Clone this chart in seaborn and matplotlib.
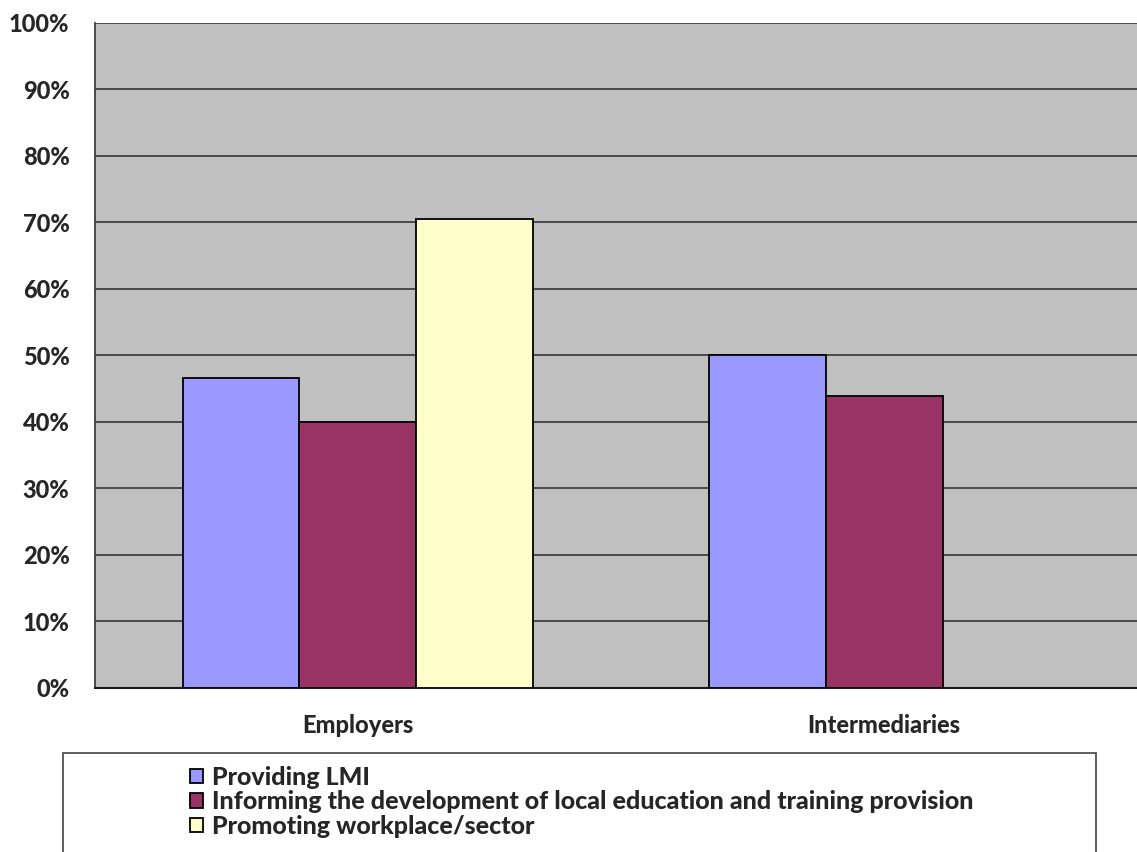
import pandas as pd
import matplotlib
matplotlib.use('Agg')
import matplotlib.pyplot as plt
import seaborn as sns
from matplotlib.patches import Rectangle
from matplotlib.ticker import PercentFormatter, FixedLocator

# Data
groups = ['Employers', 'Intermediaries']
series = ['Providing LMI',
          'Informing the development of local education and training provision',
          'Promoting workplace/sector']
providing_lmi = [0.466, 0.500]
informing_dev = [0.399, 0.438]
promoting_ws = [0.705, None]   # no bar for intermediaries
palette = ['#9999FF', '#993366', '#FFFFCC']

rows = []
for i, g in enumerate(groups):
    for s, vals in zip(series, [providing_lmi, informing_dev, promoting_ws]):
        rows.append({'group': g, 'series': s, 'value': vals[i]})
df = pd.DataFrame(rows)

sns.set_style('white')
plt.rcParams['font.family'] = ['Lato', 'DejaVu Sans']
fw = 'black'
fs = 18
fs_tick = 17

W, H = 1137, 852
fig = plt.figure(figsize=(W / 100, H / 100), dpi=100, facecolor='white')
# plot area in pixels: left 94.5, right 1147.5 (runs off the edge), top 23, bottom 687.5
ax = fig.add_axes([94.5 / W, (H - 687.5) / H, (1147.5 - 94.5) / W, (687.5 - 23) / H])
ax.set_facecolor('#C0C0C0')

sns.barplot(data=df, x='group', y='value', hue='series', order=groups, hue_order=series,
            palette=palette, width=0.665, edgecolor='black', linewidth=1.3,
            saturation=1, errorbar=None, ax=ax, zorder=3)

handles, labels = ax.get_legend_handles_labels()
ax.get_legend().remove()

ax.set_xlim(-0.5, 1.5)
ax.set_ylim(0, 1)
ax.yaxis.set_major_locator(FixedLocator([i / 10 for i in range(11)]))
ax.yaxis.set_major_formatter(PercentFormatter(1.0, decimals=0))
ax.grid(axis='y', color='#2b2b2b', linewidth=1.1, zorder=1)
ax.set_axisbelow(True)

# category separators as major ticks, labels on minor ticks
ax.xaxis.set_major_locator(FixedLocator([-0.5, 0.5, 1.5]))
ax.xaxis.set_minor_locator(FixedLocator([0, 1]))
ax.set_xticklabels(['', '', ''])
ax.set_xticklabels(groups, minor=True)
ax.tick_params(axis='x', which='major', length=8, width=1, color='black', direction='out')
ax.tick_params(axis='x', which='minor', length=0, pad=19, labelsize=fs_tick)
ax.tick_params(axis='y', length=8, width=1, color='#333333', direction='out', pad=10,
               labelsize=fs_tick)
for lbl in ax.get_xticklabels(minor=True) + ax.get_yticklabels():
    lbl.set_fontweight(fw)
ax.set_xlabel('')
ax.set_ylabel('')

for side in ['top', 'right']:
    ax.spines[side].set_visible(False)
ax.spines['left'].set_color('#404040')
ax.spines['left'].set_linewidth(1.3)
ax.spines['bottom'].set_color('#1a1a1a')
ax.spines['bottom'].set_linewidth(1.5)

# legend frame drawn separately, legend itself without frame
fig.patches.append(Rectangle((63 / W, (H - 880) / H), (1096 - 63) / W, (880 - 753) / H,
                             transform=fig.transFigure, facecolor='white',
                             edgecolor='#505050', linewidth=1.3, zorder=0))
fig.legend(handles, labels, loc='upper left', bbox_to_anchor=(190 / W, (H - 766) / H),
           frameon=False, handlelength=0.5, handleheight=0.5,
           handletextpad=0.4, labelspacing=0.05, borderpad=0, borderaxespad=0,
           prop={'weight': fw, 'size': fs})

fig.savefig('out.png', dpi=100, facecolor='white')
